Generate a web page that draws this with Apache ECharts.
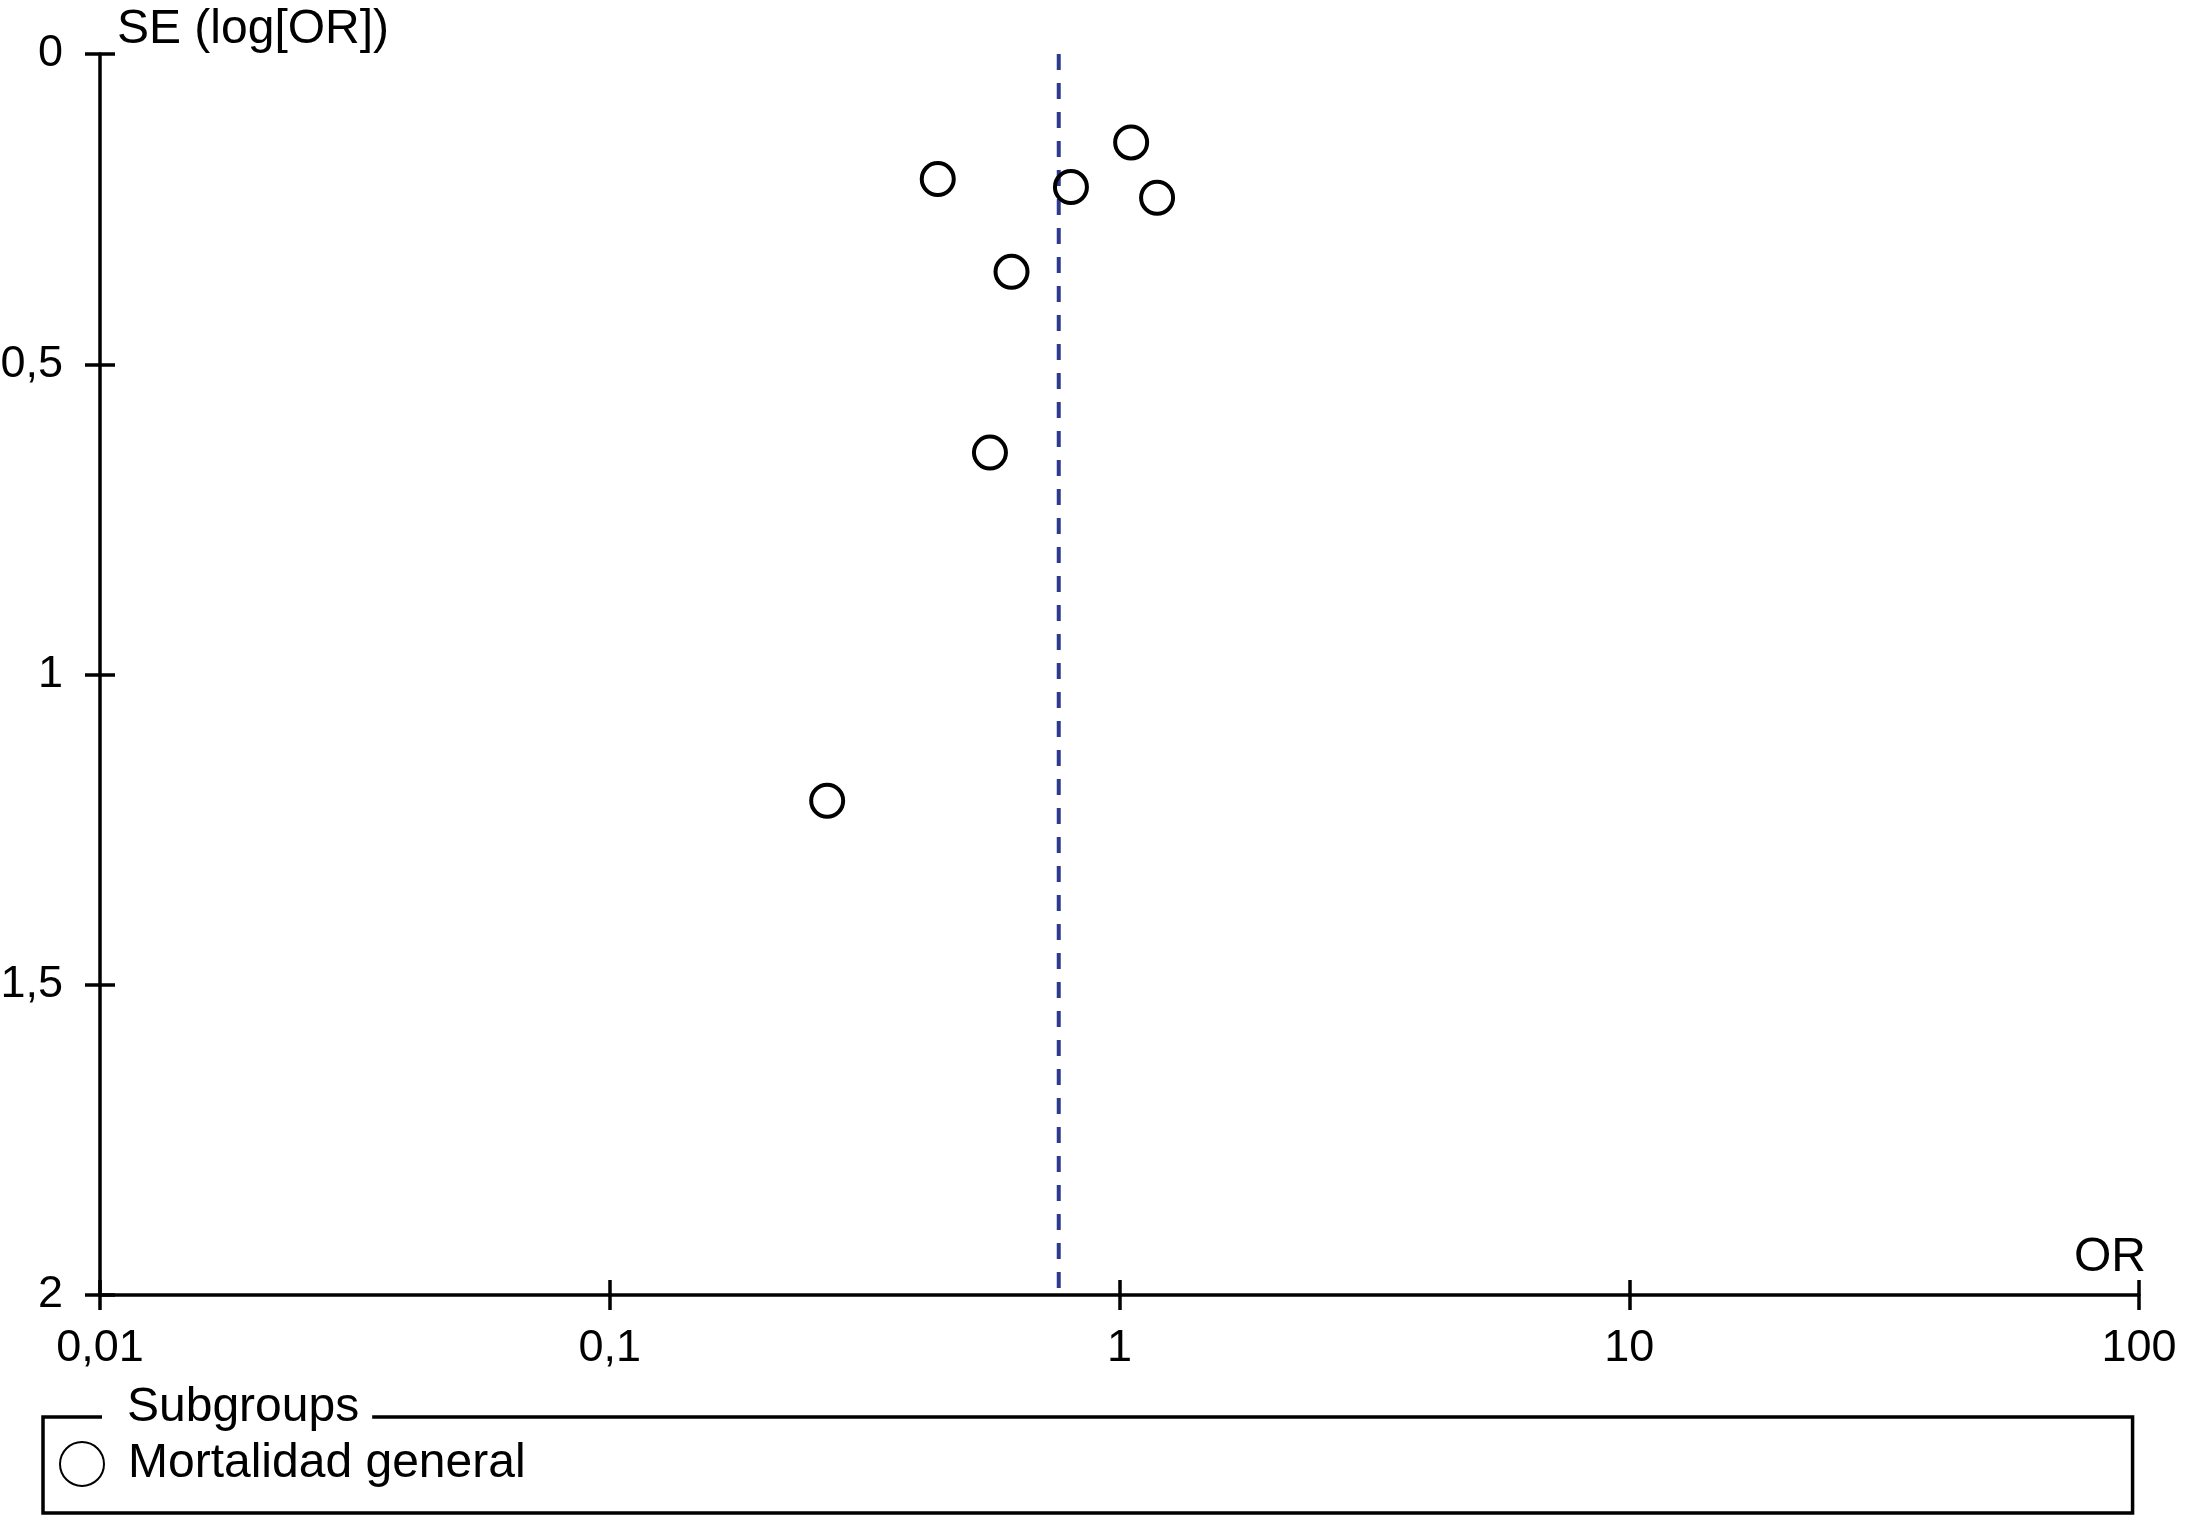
<!DOCTYPE html>
<html>
<head>
<meta charset="utf-8">
<script src="https://cdn.jsdelivr.net/npm/echarts@6/dist/echarts.min.js"></script>
<style>
html,body{margin:0;padding:0;background:#fff;}
#chart{width:2185px;height:1516px;}
</style>
</head>
<body>
<div id="chart"></div>
<script>
// ---- data ----
const studyNames = ['S1', 'S2', 'S3', 'S4', 'S5', 'S6', 'S7'];
const orValues = [1.054, 0.440, 0.803, 1.185, 0.614, 0.557, 0.267];
const seValues = [0.1425, 0.2016, 0.2144, 0.2317, 0.351, 0.6424, 1.2035];
const pooledOR = 0.76;
const xTickLabels = ['0,01', '0,1', '1', '10', '100'];
const yTickLabels = ['0', '0,5', '1', '1,5', '2'];
const seriesName = 'Mortalidad general';
const legendTitle = 'Subgroups';

const FONT = '"Liberation Sans", Arial, Helvetica, sans-serif';

const scatterData = orValues.map((v, i) => [v, seValues[i], studyNames[i]]);
const pooledLine = [[pooledOR, 0], [pooledOR, 2]];

function xLabel(v) {
  const idx = Math.round(Math.log10(v)) + 2;
  return xTickLabels[idx] !== undefined ? xTickLabels[idx] : '';
}
function yLabel(v) {
  const idx = Math.round(v / 0.5);
  return yTickLabels[idx] !== undefined ? yTickLabels[idx] : '';
}

const chart = echarts.init(document.getElementById('chart'), null, {renderer: 'canvas'});

const LW = 3.5;
const tickStyle = {color: '#000', width: LW};

const option = {
  backgroundColor: '#fff',
  animation: false,
  title: {
    text: legendTitle,
    left: 102,
    top: 1384,
    padding: [0, 13, 0, 25],
    backgroundColor: '#fff',
    textStyle: {fontSize: 48, fontWeight: 'normal', color: '#000', fontFamily: FONT}
  },
  grid: {
    left: 100, right: 46, top: 54, bottom: 221,
    containLabel: false,
    outerBoundsMode: 'none'
  },
  legend: {
    data: [seriesName],
    left: 43,
    top: 1417,
    orient: 'horizontal',
    icon: 'circle',
    itemWidth: 44,
    itemHeight: 44,
    padding: [23, 1607, 25, 16],
    borderColor: '#000',
    borderWidth: LW,
    borderRadius: 0,
    textStyle: {fontSize: 48, color: '#000', fontFamily: FONT, padding: [0, 0, 0, 19]},
    selectedMode: false
  },
  xAxis: [
    {
      type: 'log',
      logBase: 10,
      min: 0.01,
      max: 100,
      splitNumber: 4,
      position: 'bottom',
      name: 'OR',
      nameLocation: 'end',
      nameGap: 7,
      nameTextStyle: {fontSize: 48, color: '#000', fontFamily: FONT, align: 'right', verticalAlign: 'bottom', padding: [0, 0, 13, 0]},
      axisLine: {show: true, onZero: false, lineStyle: {color: '#000', width: LW}},
      axisTick: {show: true, inside: false, length: 15, lineStyle: tickStyle},
      minorTick: {show: false},
      splitLine: {show: false},
      axisLabel: {show: true, margin: 31, fontSize: 45, color: '#000', fontFamily: FONT, formatter: xLabel}
    },
    {
      type: 'log',
      logBase: 10,
      min: 0.01,
      max: 100,
      splitNumber: 4,
      position: 'bottom',
      offset: 0,
      axisLine: {show: true, onZero: false, lineStyle: {color: 'rgba(0,0,0,0)', width: 1}},
      axisTick: {show: true, inside: true, length: 15, lineStyle: tickStyle},
      minorTick: {show: false},
      splitLine: {show: false},
      axisLabel: {show: false}
    }
  ],
  yAxis: [
    {
      type: 'value',
      inverse: true,
      min: 0,
      max: 2,
      interval: 0.5,
      position: 'left',
      name: 'SE (log[OR])',
      nameLocation: 'start',
      nameGap: 0,
      nameTextStyle: {fontSize: 48, color: '#000', fontFamily: FONT, align: 'left', verticalAlign: 'bottom', padding: [0, 0, 0, 17]},
      axisLine: {show: true, onZero: false, lineStyle: {color: '#000', width: LW}},
      axisTick: {show: true, inside: false, length: 15, lineStyle: tickStyle},
      splitLine: {show: false},
      axisLabel: {show: true, margin: 37, fontSize: 45, color: '#000', fontFamily: FONT, formatter: yLabel}
    },
    {
      type: 'value',
      inverse: true,
      min: 0,
      max: 2,
      interval: 0.5,
      position: 'left',
      offset: 0,
      axisLine: {show: true, onZero: false, lineStyle: {color: 'rgba(0,0,0,0)', width: 1}},
      axisTick: {show: true, inside: true, length: 15, lineStyle: tickStyle},
      splitLine: {show: false},
      axisLabel: {show: false}
    }
  ],
  series: [
    {
      name: 'pooled',
      type: 'line',
      xAxisIndex: 0,
      yAxisIndex: 0,
      data: pooledLine,
      symbol: 'none',
      silent: true,
      lineStyle: {color: '#2e3a8e', width: 4, type: [16, 13]},
      z: 1
    },
    {
      name: seriesName,
      type: 'scatter',
      xAxisIndex: 0,
      yAxisIndex: 0,
      data: scatterData,
      symbol: 'circle',
      symbolSize: 32,
      itemStyle: {color: 'rgba(255,255,255,0)', borderColor: '#000', borderWidth: 4, opacity: 1},
      z: 3
    }
  ]
};

chart.setOption(option);
</script>
</body>
</html>
